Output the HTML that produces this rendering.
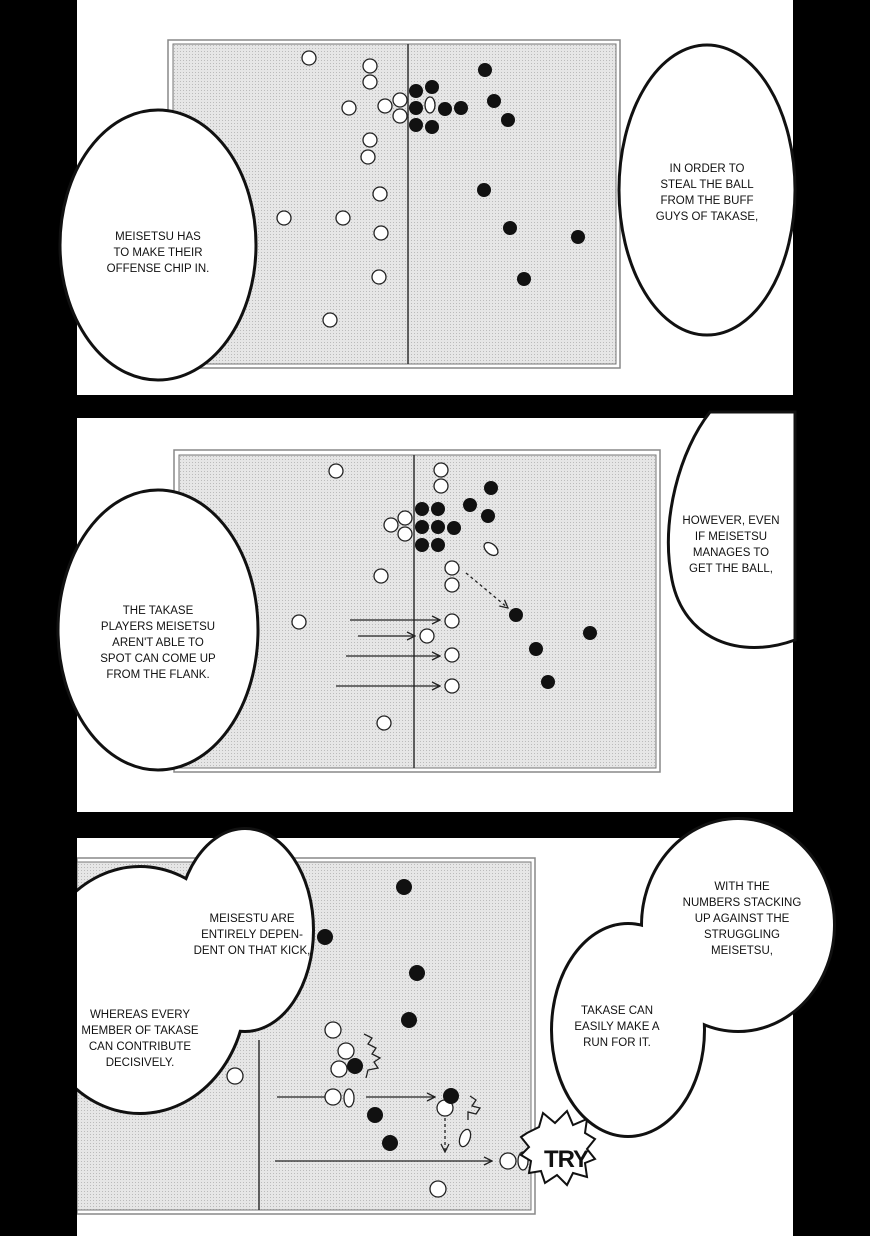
<!DOCTYPE html>
<html><head><meta charset="utf-8"><style>
html,body{margin:0;padding:0;background:#000}
svg{display:block}
text{font-family:"Liberation Sans",sans-serif;font-size:11.5px;text-anchor:middle;fill:#111}
</style></head><body>
<svg width="870" height="1236" viewBox="0 0 870 1236" xmlns="http://www.w3.org/2000/svg">
<defs>
<pattern id="dot" width="3" height="3" patternUnits="userSpaceOnUse"><rect width="3" height="3" fill="#e6e6e6"/><rect width="1" height="1" fill="#bbb"/></pattern>
<marker id="ar" markerWidth="10" markerHeight="10" refX="9" refY="5" orient="auto" markerUnits="userSpaceOnUse"><path d="M1,1 L9,5 L1,9" fill="none" stroke="#222" stroke-width="1.3"/></marker>
</defs>
<rect width="870" height="1236" fill="#000"/>
<rect x="77" y="0" width="716" height="395" fill="#fff"/>
<rect x="77" y="418" width="716" height="394" fill="#fff"/>
<rect x="77" y="838" width="716" height="398" fill="#fff"/>

<rect x="168" y="40" width="452" height="328" fill="#fff" stroke="#888" stroke-width="1.5"/>
<rect x="173" y="44" width="443" height="320" fill="url(#dot)" stroke="#777" stroke-width="1"/>
<line x1="408" y1="44" x2="408" y2="364" stroke="#333" stroke-width="1.5"/>
<g fill="#fff" stroke="#222" stroke-width="1.3">
<circle cx="309" cy="58" r="7"/><circle cx="370" cy="66" r="7"/><circle cx="370" cy="82" r="7"/><circle cx="349" cy="108" r="7"/><circle cx="385" cy="106" r="7"/><circle cx="400" cy="100" r="7"/><circle cx="400" cy="116" r="7"/><circle cx="370" cy="140" r="7"/><circle cx="368" cy="157" r="7"/><circle cx="380" cy="194" r="7"/><circle cx="284" cy="218" r="7"/><circle cx="343" cy="218" r="7"/><circle cx="381" cy="233" r="7"/><circle cx="379" cy="277" r="7"/><circle cx="330" cy="320" r="7"/>
<ellipse cx="430" cy="105" rx="5" ry="8"/>
</g>
<g fill="#111">
<circle cx="416" cy="91" r="7"/><circle cx="432" cy="87" r="7"/><circle cx="416" cy="108" r="7"/><circle cx="416" cy="125" r="7"/><circle cx="432" cy="127" r="7"/><circle cx="445" cy="109" r="7"/><circle cx="461" cy="108" r="7"/><circle cx="485" cy="70" r="7"/><circle cx="494" cy="101" r="7"/><circle cx="508" cy="120" r="7"/><circle cx="484" cy="190" r="7"/><circle cx="510" cy="228" r="7"/><circle cx="578" cy="237" r="7"/><circle cx="524" cy="279" r="7"/>
</g>
<ellipse cx="158" cy="245" rx="98" ry="135" fill="#fff" stroke="#111" stroke-width="3"/>
<text x="158" y="240">MEISETSU HAS</text><text x="158" y="256">TO MAKE THEIR</text><text x="158" y="272">OFFENSE CHIP IN.</text>
<ellipse cx="707" cy="190" rx="88" ry="145" fill="#fff" stroke="#111" stroke-width="3"/>
<text x="707" y="172">IN ORDER TO</text><text x="707" y="188">STEAL THE BALL</text><text x="707" y="204">FROM THE BUFF</text><text x="707" y="220">GUYS OF TAKASE,</text>

<rect x="174" y="450" width="486" height="322" fill="#fff" stroke="#888" stroke-width="1.5"/>
<rect x="179" y="455" width="477" height="313" fill="url(#dot)" stroke="#777" stroke-width="1"/>
<line x1="414" y1="455" x2="414" y2="768" stroke="#333" stroke-width="1.5"/>
<g fill="#fff" stroke="#222" stroke-width="1.3">
<circle cx="336" cy="471" r="7"/><circle cx="441" cy="470" r="7"/><circle cx="441" cy="486" r="7"/><circle cx="391" cy="525" r="7"/><circle cx="405" cy="518" r="7"/><circle cx="405" cy="534" r="7"/><circle cx="381" cy="576" r="7"/><circle cx="452" cy="568" r="7"/><circle cx="452" cy="585" r="7"/><circle cx="299" cy="622" r="7"/><circle cx="452" cy="621" r="7"/><circle cx="427" cy="636" r="7"/><circle cx="452" cy="655" r="7"/><circle cx="452" cy="686" r="7"/><circle cx="384" cy="723" r="7"/>
<ellipse cx="491" cy="549" rx="5" ry="8" transform="rotate(-50 491 549)"/>
</g>
<g fill="#111">
<circle cx="422" cy="509" r="7"/><circle cx="438" cy="509" r="7"/><circle cx="422" cy="527" r="7"/><circle cx="438" cy="527" r="7"/><circle cx="454" cy="528" r="7"/><circle cx="422" cy="545" r="7"/><circle cx="438" cy="545" r="7"/><circle cx="491" cy="488" r="7"/><circle cx="470" cy="505" r="7"/><circle cx="488" cy="516" r="7"/><circle cx="516" cy="615" r="7"/><circle cx="590" cy="633" r="7"/><circle cx="536" cy="649" r="7"/><circle cx="548" cy="682" r="7"/>
</g>
<g stroke="#222" stroke-width="1.3" fill="none" marker-end="url(#ar)">
<line x1="350" y1="620" x2="440" y2="620"/><line x1="358" y1="636" x2="415" y2="636"/><line x1="346" y1="656" x2="440" y2="656"/><line x1="336" y1="686" x2="440" y2="686"/>
<line x1="466" y1="573" x2="508" y2="608" stroke-dasharray="3,3"/>
</g>
<ellipse cx="158" cy="630" rx="100" ry="140" fill="#fff" stroke="#111" stroke-width="3"/>
<text x="158" y="614">THE TAKASE</text><text x="158" y="630">PLAYERS MEISETSU</text><text x="158" y="646">AREN'T ABLE TO</text><text x="158" y="662">SPOT CAN COME UP</text><text x="158" y="678">FROM THE FLANK.</text>
<path d="M710,412 C680,450 660,520 672,580 C684,640 740,660 795,640 L795,412 Z" fill="#fff" stroke="#111" stroke-width="3"/>
<text x="731" y="524">HOWEVER, EVEN</text><text x="731" y="540">IF MEISETSU</text><text x="731" y="556">MANAGES TO</text><text x="731" y="572">GET THE BALL,</text>

<rect x="77" y="858" width="458" height="356" fill="#fff" stroke="#888" stroke-width="1.5"/>
<rect x="77" y="862" width="454" height="348" fill="url(#dot)" stroke="#777" stroke-width="1"/>
<line x1="259" y1="1040" x2="259" y2="1210" stroke="#333" stroke-width="1.5"/>
<g fill="#fff" stroke="#222" stroke-width="1.3">
<circle cx="235" cy="1076" r="8"/><circle cx="333" cy="1030" r="8"/><circle cx="346" cy="1051" r="8"/><circle cx="339" cy="1069" r="8"/><circle cx="333" cy="1097" r="8"/><circle cx="445" cy="1108" r="8"/><circle cx="508" cy="1161" r="8"/><circle cx="438" cy="1189" r="8"/>
<ellipse cx="349" cy="1098" rx="5" ry="9"/><ellipse cx="465" cy="1138" rx="5" ry="9" transform="rotate(20 465 1138)"/><ellipse cx="523" cy="1161" rx="5" ry="9"/>
</g>
<g fill="#111">
<circle cx="404" cy="887" r="8"/><circle cx="325" cy="937" r="8"/><circle cx="417" cy="973" r="8"/><circle cx="409" cy="1020" r="8"/><circle cx="355" cy="1066" r="8"/><circle cx="451" cy="1096" r="8"/><circle cx="375" cy="1115" r="8"/><circle cx="390" cy="1143" r="8"/>
</g>
<g stroke="#222" stroke-width="1.3" fill="none">
<line x1="277" y1="1097" x2="325" y2="1097"/>
<line x1="366" y1="1097" x2="435" y2="1097" marker-end="url(#ar)"/>
<line x1="275" y1="1161" x2="492" y2="1161" marker-end="url(#ar)"/>
<line x1="445" y1="1118" x2="445" y2="1152" stroke-dasharray="3,3" marker-end="url(#ar)"/>
<path d="M364,1034 l8,4 -4,6 8,4 -4,6 8,4 -6,4 4,6 -10,2 -2,8"/>
<path d="M470,1096 l6,4 -4,6 8,2 -4,6 -8,-2 0,8"/>
</g>
<path d="M527,1133 l12,-6 4,-14 12,10 12,-12 6,14 14,-6 -2,14 10,6 -8,10 8,10 -10,4 2,14 -14,-4 -6,12 -10,-10 -12,8 -4,-12 -12,2 2,-12 -10,-6 8,-8 -8,-10 z" fill="#fff" stroke="#111" stroke-width="2"/>
<text x="566" y="1167" style="font-size:24px;font-weight:bold;letter-spacing:-1px">TRY</text>

<g stroke="#111" stroke-width="6" fill="#fff">
<ellipse cx="245" cy="930" rx="67" ry="100"/>
<ellipse cx="140" cy="990" rx="105" ry="122"/>
</g>
<g fill="#fff">
<ellipse cx="245" cy="930" rx="67" ry="100"/>
<ellipse cx="140" cy="990" rx="105" ry="122"/>
</g>
<rect x="0" y="838" width="77" height="398" fill="#000"/>
<text x="252" y="922">MEISESTU ARE</text><text x="252" y="938">ENTIRELY DEPEN-</text><text x="252" y="954">DENT ON THAT KICK,</text>
<text x="140" y="1018">WHEREAS EVERY</text><text x="140" y="1034">MEMBER OF TAKASE</text><text x="140" y="1050">CAN CONTRIBUTE</text><text x="140" y="1066">DECISIVELY.</text>

<g stroke="#111" stroke-width="6" fill="#fff">
<ellipse cx="738" cy="925" rx="95" ry="105"/>
<ellipse cx="628" cy="1030" rx="75" ry="105"/>
</g>
<g fill="#fff">
<ellipse cx="738" cy="925" rx="95" ry="105"/>
<ellipse cx="628" cy="1030" rx="75" ry="105"/>
</g>
<text x="742" y="890">WITH THE</text><text x="742" y="906">NUMBERS STACKING</text><text x="742" y="922">UP AGAINST THE</text><text x="742" y="938">STRUGGLING</text><text x="742" y="954">MEISETSU,</text>
<text x="617" y="1014">TAKASE CAN</text><text x="617" y="1030">EASILY MAKE A</text><text x="617" y="1046">RUN FOR IT.</text>
</svg>
</body></html>
